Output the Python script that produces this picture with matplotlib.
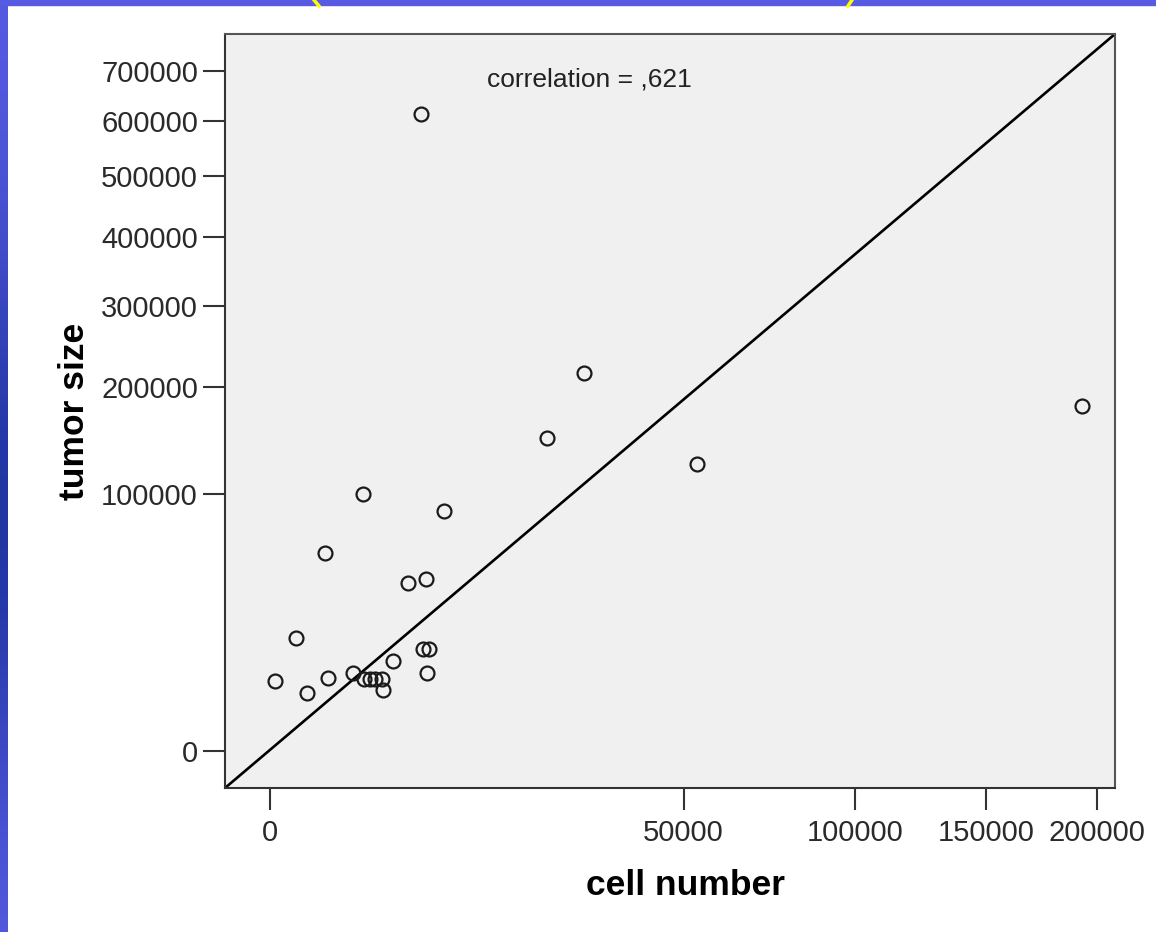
import numpy as np
import matplotlib.pyplot as plt
from matplotlib.lines import Line2D

# cell number vs tumor size, one point per sample
cell_number = [6700, 28800, 22400, 53300, 192600, 2530, 8850, 880, 5560, 7110,
               197, 7, 400, 983, 2013, 2582, 2922, 3222, 3665, 3730,
               4421, 6840, 7386, 7202]
tumor_size = [613000, 216000, 148600, 124900, 180500, 100200, 87400, 59500, 42800, 44900,
              19370, 7430, 5100, 8080, 9228, 7862, 7862, 7862, 7862, 5643,
              12280, 15780, 15780, 9228]

x_ticks = [0, 50000, 100000, 150000, 200000]
y_ticks = [0, 100000, 200000, 300000, 400000, 500000, 600000, 700000]
corr_text = "correlation = ,621"


def fwd(v):
    v = np.asarray(v, dtype=float)
    return np.sign(v) * np.sqrt(np.abs(v))


def inv(v):
    v = np.asarray(v, dtype=float)
    return np.sign(v) * v ** 2


plt.rcParams['font.family'] = ['Liberation Sans', 'DejaVu Sans']

fig = plt.figure(figsize=(11.56, 9.32), dpi=100)
fig.patch.set_facecolor('white')

# slide border: left gradient strip and top band
strip = fig.add_axes([0, 0, 8 / 1156, 1])
t = np.linspace(0, 1, 256)
shade = np.exp(-((t - 0.55) / 0.3) ** 2)
top_c = np.array([0.34, 0.36, 0.89])
dark_c = np.array([0.13, 0.21, 0.64])
grad = top_c[None, :] * (1 - shade[:, None]) + dark_c[None, :] * shade[:, None]
strip.imshow(grad[:, None, :], aspect='auto', extent=[0, 1, 0, 1])
strip.axis('off')
fig.patches.append(plt.Rectangle((0, 1 - 5 / 932), 1, 5 / 932, transform=fig.transFigure,
                                 color='#575BE3', zorder=5))
for x0, x1 in [(314, 319), (852, 848)]:
    fig.add_artist(Line2D([x0 / 1156, x1 / 1156], [1, 1 - 6 / 932], color='#FFFF00',
                          lw=2.5, zorder=6))

ax = fig.add_axes([225 / 1156, 1 - 788 / 932, 890 / 1156, 754 / 932])
ax.set_facecolor('#F0F0F0')
ax.set_xscale('function', functions=(fwd, inv))
ax.set_yscale('function', functions=(fwd, inv))
ax.set_xlim(-590, 208660)
ax.set_ylim(-2080, 777600)

ax.plot([0, 1], [0, 1], transform=ax.transAxes, color='black', lw=1.9, zorder=2)
ax.plot(cell_number, tumor_size, 'o', mfc='none', mec='#1a1a1a', ms=10, mew=1.6,
        zorder=3)

ax.set_xticks(x_ticks)
ax.set_xticklabels([str(v) for v in x_ticks])
ax.set_yticks(y_ticks)
ax.set_yticklabels([str(v) for v in y_ticks])
ax.minorticks_off()
ax.tick_params(axis='both', length=15.5, width=1.5, color='#333333',
               labelsize=21, labelcolor='#2a2a2a')
ax.tick_params(axis='x', pad=7)
ax.tick_params(axis='y', pad=4)

for s in ax.spines.values():
    s.set_color('#555555')
    s.set_linewidth(1.5)
ax.spines['left'].set_color('#333333')
ax.spines['bottom'].set_color('#333333')

ax.set_xlabel('cell number', fontsize=25.5, fontweight='bold')
ax.xaxis.set_label_coords(0.517, -0.107, transform=ax.transAxes)
ax.set_ylabel('tumor size', fontsize=25.5, fontweight='bold', labelpad=7)
ax.text(487 / 100, (932 - 79) / 100, corr_text, transform=fig.dpi_scale_trans,
        fontsize=19, color='#222222', va='center')

fig.savefig('out.png', dpi=100)
